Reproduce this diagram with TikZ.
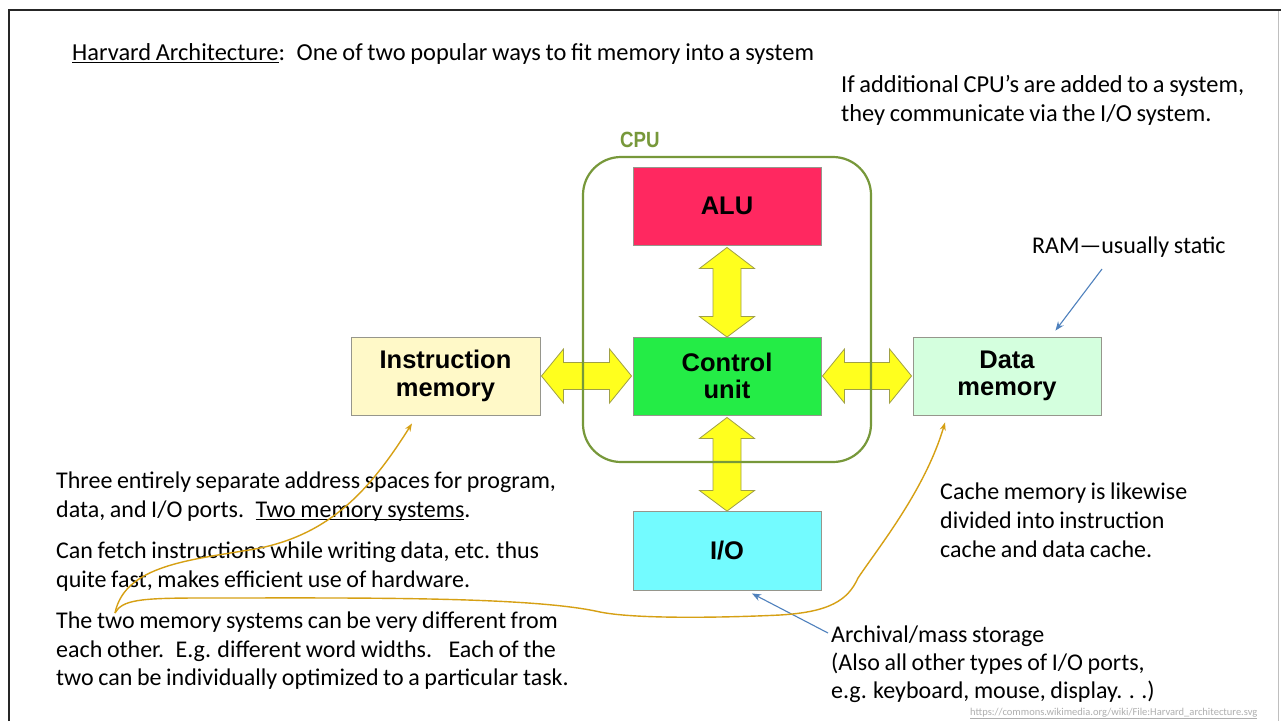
\documentclass[tikz,border=0pt]{standalone}
\usepackage{fontspec}
\setmainfont{Carlito}[WordSpace=0.85]
\newfontfamily\boxfont{Liberation Sans}
\newfontfamily\urlfont{Carlito}
\usetikzlibrary{calc,arrows.meta}

\definecolor{alured}{RGB}{255,40,96}
\definecolor{ctrlgreen}{RGB}{36,236,70}
\definecolor{insyellow}{RGB}{255,249,200}
\definecolor{datagreen}{RGB}{212,255,222}
\definecolor{iocyan}{RGB}{115,251,255}
\definecolor{cpuolive}{RGB}{119,152,58}
\definecolor{busyellow}{RGB}{255,255,30}
\definecolor{busedge}{RGB}{160,160,70}
\definecolor{notegold}{RGB}{214,160,20}
\definecolor{noteblue}{RGB}{79,129,189}
\definecolor{urlgray}{RGB}{175,175,175}
\definecolor{blockedge}{RGB}{150,150,140}

% underline set close to the baseline, crossing descenders
\newcommand\lineunder[1]{\setbox0=\hbox{#1}\rlap{\rule[-3.2pt]{\wd0}{1.3pt}}\box0}

% yellow double-headed bus arrows between two anchors
\newcommand\vbus[2]{\draw[bus] let \p1=(#1), \p2=(#2) in
  (\x1,\y1-2pt) -- (\x1+27.5pt,\y1-23pt) -- (\x1+14pt,\y1-23pt) -- (\x1+14pt,\y2+20pt)
  -- (\x1+27.5pt,\y2+20pt) -- (\x1,\y2-0.5pt) -- (\x1-27.5pt,\y2+20pt) -- (\x1-14pt,\y2+20pt)
  -- (\x1-14pt,\y1-23pt) -- (\x1-27.5pt,\y1-23pt) -- cycle;}
\newcommand\hbus[2]{\draw[bus] let \p1=(#1), \p2=(#2) in
  (\x1+1pt,\y1) -- (\x1+23pt,\y1+27pt) -- (\x1+23pt,\y1+13.5pt) -- (\x2-23pt,\y1+13.5pt)
  -- (\x2-23pt,\y1+27pt) -- (\x2-1pt,\y1) -- (\x2-23pt,\y1-27pt) -- (\x2-23pt,\y1-13.5pt)
  -- (\x1+23pt,\y1-13.5pt) -- (\x1+23pt,\y1-27pt) -- cycle;}

\begin{document}
\begin{tikzpicture}[x=1pt,y=-1pt,
  block/.style={draw=blockedge, line width=0.9pt, minimum width=188pt, minimum height=78pt,
    inner sep=0pt, align=center, font=\boxfont\bfseries\fontsize{25.5}{27.5}\selectfont},
  cpubox/.style={draw=cpuolive, line width=2.2pt, rounded corners=38pt,
    minimum width=288pt, minimum height=305pt, inner sep=0pt},
  bus/.style={fill=busyellow, draw=busedge, line width=0.8pt, line join=miter},
  note/.style={anchor=base west, inner sep=0pt, font=\fontsize{24}{29}\selectfont},
  bignote/.style={note, font=\fontsize{24.4}{29}\selectfont},
  goldnote/.style={draw=notegold, line width=1.4pt, -{Stealth[length=8pt,width=6pt]}},
  bluenote/.style={draw=noteblue, line width=1.1pt, -{Stealth[length=9pt,width=7pt]}}]

\fill[white] (0,0) rectangle (1281,721);
\useasboundingbox (0,0) rectangle (1281,721);

% slide frame
\draw[black!85, line width=2pt] (9,721) -- (9,10) -- (1281,10);
\draw[black!25, line width=0.8pt] (1278,11) -- (1278,721);

% functional blocks
\node[block, fill=alured] (alu) at (727,206) {ALU};
\node[block, fill=ctrlgreen] (ctrl) at (727,376) {Control\\unit};
\node[block, fill=insyellow, minimum width=189pt] (ins) at (445.5,376) {Instruction\\memory};
\node[block, fill=datagreen] (data) at (1007,376) {Data\\memory};
\node[block, fill=iocyan, minimum height=79pt] (io) at (727,550.5) {I/O};

% buses
\vbus{alu.south}{ctrl.north}
\vbus{ctrl.south}{io.north}
\hbus{ins.east}{ctrl.west}
\hbus{ctrl.east}{data.west}

% CPU enclosure
\node[cpubox] (cpu) at (727,309.5) {};
\node[anchor=base west, inner sep=0pt, text=cpuolive,
  font=\boxfont\bfseries\fontsize{22}{24}\selectfont] (cpulabel) at (620,147) {\scalebox{0.85}[1]{CPU}};

% headline and notes
\node[bignote] (title) at (72,60) {\lineunder{Harvard Architecture}:\hspace{5pt} One of two popular ways to fit memory into a system};

\node[bignote] (cpu1) at (841,92) {If additional CPU’s are added to a system,};
\node[bignote] (cpu2) at (841,121) {they communicate via the I/O system.};

\node[note] (ram) at (1032,253) {RAM\textemdash usually static};

\node[note] (cache1) at (940,499) {Cache memory is likewise};
\node[note] (cache2) at (940,528) {divided into instruction};
\node[note] (cache3) at (940,557) {cache and data cache.};

\node[note] (left1) at (56,488) {Three entirely separate address spaces for program,};
\node[note] (left2) at (56,517) {data, and I/O ports.\hspace{5pt} \lineunder{Two memory systems}.};
\node[note] (left3) at (56,558) {Can fetch instructions while writing data, etc. thus};
\node[note] (left4) at (56,587) {quite fast, makes efficient use of hardware.};
\node[note] (left5) at (56,628) {The two memory systems can be very different from};
\node[note] (left6) at (56,657) {each other.\hspace{5pt} E.g. different word widths.\hspace{10pt} Each of the};
\node[note] (left7) at (56,685) {two can be individually optimized to a particular task.};

\node[note] (arch1) at (831,642) {Archival/mass storage};
\node[note] (arch2) at (831,670) {(Also all other types of I/O ports,};
\node[note] (arch3) at (831,698) {e.g. keyboard, mouse, display. . .)};

\node[anchor=base west, inner sep=0pt, text=urlgray, font=\urlfont\fontsize{10.5}{12}\selectfont]
  (url) at (970,715) {\underline{https://commons.wikimedia.org/wiki/File:Harvard\_architecture.svg}};

% pointer arrows
\coordinate (ramfrom) at (1102,269);
\coordinate (ramtip) at ($(data.north east)+(-46,-6)$);
\draw[bluenote] (ramfrom) -- (ramtip);

\coordinate (archfrom) at (828,633);
\coordinate (archtip) at ($(io.south)+(25,3)$);
\draw[bluenote] (archfrom) -- (archtip);

\coordinate (twomem) at (115,613);
\coordinate (instip) at ($(ins.south)+(-33.5,8)$);
\coordinate (datatip) at ($(data.south)+(-62,7)$);
\draw[goldnote] (twomem) .. controls (125,565) and (190,560) .. (255,549)
  .. controls (330,535) and (370,490) .. (instip);
\draw[goldnote] (twomem) .. controls (122,600) and (140,598) .. (200,598)
  .. controls (350,598) and (530,596) .. (600,612)
  .. controls (640,620) and (740,617) .. (780,615)
  .. controls (830,612) and (848,600) .. (858,578)
  .. controls (878,548) and (925,490) .. (datatip);
\end{tikzpicture}
\end{document}
